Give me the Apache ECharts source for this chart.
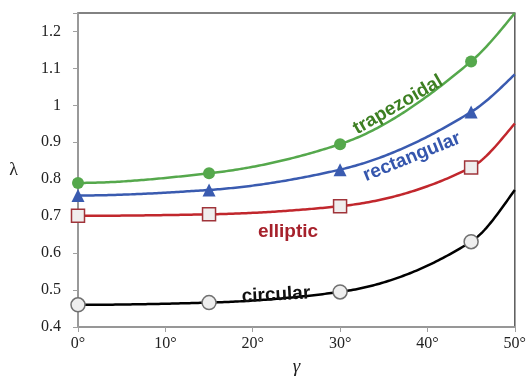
<!DOCTYPE html>
<html><head><meta charset="utf-8">
<script src="https://cdn.jsdelivr.net/npm/echarts@6/dist/echarts.min.js"></script>
<style>html,body{margin:0;padding:0;background:#fff}#c{width:529px;height:381px}</style>
</head><body><div id="c"></div>
<script>
const gammaDeg = [0, 15, 30, 45, 50];
const markerCount = 4; // markers drawn at 0,15,30,45
const trapezoidal = [0.790, 0.816, 0.895, 1.119, 1.25];
const rectangular = [0.756, 0.771, 0.826, 0.982, 1.084];
const elliptic    = [0.701, 0.705, 0.727, 0.832, 0.951];
const circular    = [0.460, 0.466, 0.495, 0.631, 0.771];
const xTicks = [0, 10, 20, 30, 40, 50];
const yTicks = [0.4, 0.5, 0.6, 0.7, 0.8, 0.9, 1.0, 1.1, 1.2];

// monotone cubic (PCHIP) used only to draw the smoothed curve through the data points
function pchip(xs, ys){
  const n = xs.length, h = [], d = [], m = new Array(n);
  for (let i=0;i<n-1;i++){ h.push(xs[i+1]-xs[i]); d.push((ys[i+1]-ys[i])/h[i]); }
  for (let i=1;i<n-1;i++){
    if (d[i-1]*d[i] <= 0) m[i] = 0;
    else { const w1 = 2*h[i]+h[i-1], w2 = h[i]+2*h[i-1]; m[i] = (w1+w2)/(w1/d[i-1]+w2/d[i]); }
  }
  function endSlope(h0,h1,d0,d1){
    let s = ((2*h0+h1)*d0 - h0*d1)/(h0+h1);
    if (Math.sign(s)!==Math.sign(d0)) s = 0;
    else if (Math.sign(d0)!==Math.sign(d1) && Math.abs(s)>Math.abs(3*d0)) s = 3*d0;
    return s;
  }
  m[0] = endSlope(h[0],h[1],d[0],d[1]);
  m[n-1] = endSlope(h[n-2],h[n-3],d[n-2],d[n-3]);
  return function(x){
    let i = 0; while (i<n-2 && x>xs[i+1]) i++;
    const t = (x-xs[i])/h[i], t2=t*t, t3=t2*t;
    return (2*t3-3*t2+1)*ys[i] + (t3-2*t2+t)*h[i]*m[i] + (-2*t3+3*t2)*ys[i+1] + (t3-t2)*h[i]*m[i+1];
  };
}

const chart = echarts.init(document.getElementById('c'), null, {renderer:'canvas'});
const serif = '"Liberation Serif","Times New Roman",serif';
const sans = '"Liberation Sans",Arial,sans-serif';

function curve(vals, color){
  const f = pchip(gammaDeg, vals);
  return {type:'custom', data:gammaDeg.map((x,i)=>[x, vals[i]]), z:2, silent:true,
    renderItem:function(params, api){
      if (params.dataIndex !== 0) return null;
      const pts = [];
      const x0 = gammaDeg[0], x1 = gammaDeg[gammaDeg.length-1];
      for (let k=0;k<=200;k++){ const x = x0+(x1-x0)*k/200; pts.push(api.coord([x, f(x)])); }
      return {type:'polyline', shape:{points:pts, smooth:0}, style:{stroke:color, lineWidth:2.5, fill:null}};
    }};
}
function markers(vals, sym, size, itemStyle){
  return {type:'scatter', data:gammaDeg.slice(0,markerCount).map((x,i)=>[x, vals[i]]),
    symbol:sym, symbolSize:size, itemStyle:Object.assign({opacity:1}, itemStyle), z:4};
}

chart.setOption({
  animation:false,
  grid:{left:78, right:14, top:13, bottom:45, show:true, borderColor:'#5a5a5a', borderWidth:1.5},
  xAxis:{type:'value', min:0, max:50, interval:10,
    axisLine:{show:true, onZero:false, lineStyle:{color:'#a0a0a0', width:1.5}},
    axisTick:{show:true, length:5, lineStyle:{color:'#a0a0a0'}},
    splitLine:{show:false},
    axisLabel:{color:'#222', fontFamily:serif, fontSize:16, margin:9, formatter:v=>v+'°'},
    name:'γ', nameLocation:'middle', nameGap:30,
    nameTextStyle:{fontFamily:serif, fontStyle:'italic', fontSize:19, color:'#222'}
  },
  yAxis:{type:'value', min:0.4, max:1.25, interval:0.1,
    axisLine:{show:true, onZero:false, lineStyle:{color:'#a0a0a0', width:1.5}},
    axisTick:{show:true, length:5, lineStyle:{color:'#a0a0a0'}},
    splitLine:{show:false},
    axisLabel:{color:'#222', fontFamily:serif, fontSize:16, margin:17,
      formatter:v=> yTicks.some(t=>Math.abs(t-v)<1e-6) ? String(+v.toFixed(1)) : ''},
    name:'λ', nameLocation:'middle', nameGap:60, nameRotate:0,
    nameTextStyle:{fontFamily:serif, fontSize:18, color:'#222'}
  },
  series:[
    curve(circular, '#000'),
    curve(elliptic, '#c1272d'),
    curve(rectangular, '#3a5bb0'),
    curve(trapezoidal, '#55a84c'),
    markers(circular, 'circle', 14, {color:'#eeeeee', borderColor:'#707070', borderWidth:1.5}),
    markers(elliptic, 'rect', 13, {color:'#f0eeee', borderColor:'#a0343a', borderWidth:1.5}),
    markers(rectangular, 'triangle', 13, {color:'#3a5bb0'}),
    markers(trapezoidal, 'circle', 12, {color:'#55a84c'})
  ],
  graphic:[
    {type:'text', x:398, y:105, rotation:30*Math.PI/180, z:10,
      style:{text:'trapezoidal', font:'bold 19px '+sans, fill:'#3d7f22', textAlign:'center', textVerticalAlign:'middle'}},
    {type:'text', x:412, y:157, rotation:22*Math.PI/180, z:10,
      style:{text:'rectangular', font:'bold 19px '+sans, fill:'#3556ad', textAlign:'center', textVerticalAlign:'middle'}},
    {type:'text', x:288, y:232, z:10,
      style:{text:'elliptic', font:'bold 19px '+sans, fill:'#a6212b', textAlign:'center', textVerticalAlign:'middle'}},
    {type:'text', x:276, y:295, rotation:3*Math.PI/180, z:10,
      style:{text:'circular', font:'bold 19px '+sans, fill:'#111', textAlign:'center', textVerticalAlign:'middle'}}
  ]
});
</script></body></html>
